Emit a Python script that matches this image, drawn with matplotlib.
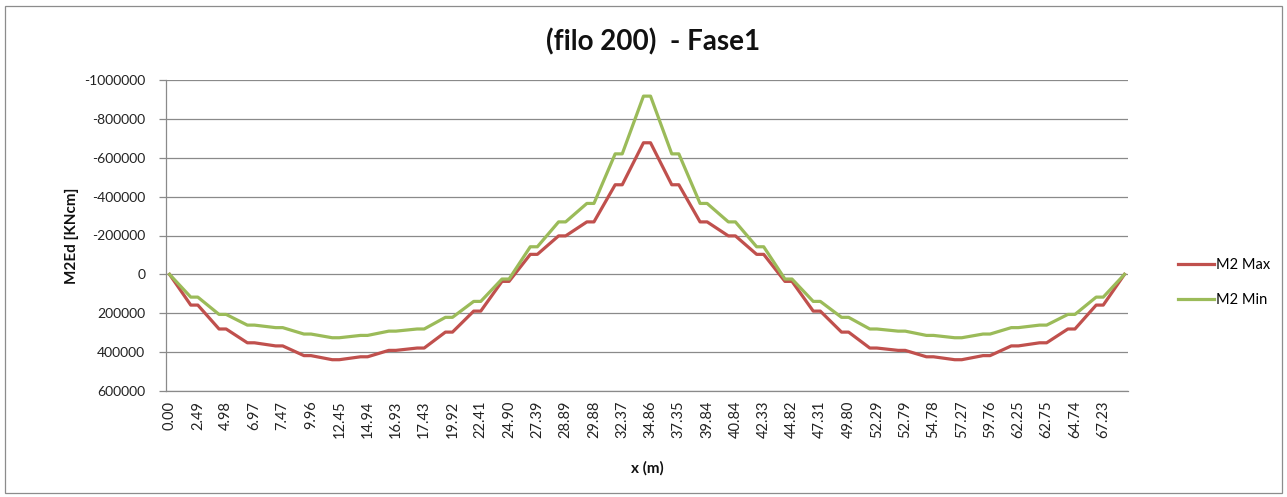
import matplotlib
matplotlib.use("Agg")
import matplotlib.pyplot as plt
from matplotlib.patches import Rectangle
from matplotlib.ticker import FuncFormatter, FixedLocator

plt.rcParams['font.family'] = ['Lato', 'DejaVu Sans']

# Section abscissae (m) at the element nodes, as printed on the category axis
x_labels = ["0.00", "2.49", "4.98", "6.97", "7.47", "9.96", "12.45", "14.94",
            "16.93", "17.43", "19.92", "22.41", "24.90", "27.39", "28.89",
            "29.88", "32.37", "34.86", "37.35", "39.84", "40.84", "42.33",
            "44.82", "47.31", "49.80", "52.29", "52.79", "54.78", "57.27",
            "59.76", "62.25", "62.75", "64.74", "67.23"]

# Bending moment M2Ed [KNcm] at the element nodes (35 nodes, 34 elements)
m2_max = [0, 158000, 281000, 352000, 368000, 418000, 439000, 424000, 391000,
          379000, 297000, 189000, 36000, -103000, -198000, -270000, -461000,
          -677000,
          -461000, -270000, -198000, -103000, 36000, 189000, 297000, 379000,
          391000, 424000, 439000, 418000, 368000, 352000, 281000, 158000, 0]
m2_min = [0, 117000, 206000, 261000, 274000, 307000, 326000, 314000, 292000,
          281000, 221000, 139000, 24000, -142000, -270000, -365000, -620000,
          -917000,
          -620000, -365000, -270000, -142000, 24000, 139000, 221000, 281000,
          292000, 314000, 326000, 307000, 274000, 261000, 206000, 117000, 0]

# Each element is output as 4 stations (start, 1/3, 2/3, end) on the category axis
STATIONS = 4
n_elem = len(m2_max) - 1
n_cat = n_elem * STATIONS


def element_polyline(node_vals):
    xs, ys = [], []
    for k in range(n_elem):
        xs += [k * STATIONS, k * STATIONS + STATIONS - 1]
        ys += [node_vals[k], node_vals[k + 1]]
    return xs, ys


W, H = 1287, 497
fig = plt.figure(figsize=(W / 100, H / 100), dpi=100)
fig.patch.set_facecolor("white")
fig.add_artist(Rectangle((5 / W, 4 / H), 1277 / W, 487 / H, transform=fig.transFigure,
                         fill=False, edgecolor="#8c8c8c", linewidth=0.9))

ax = fig.add_axes([166 / W, 1 - 391 / H, (1128 - 166) / W, (391 - 80) / H])

grid_c = "#8a8a8a"
red = "#C0504D"
green = "#9BBB59"

xs, ys = element_polyline(m2_max)
ax.plot(xs, ys, color=red, lw=2.3, label="M2 Max", solid_joinstyle="round", zorder=3)
xs, ys = element_polyline(m2_min)
ax.plot(xs, ys, color=green, lw=2.3, label="M2 Min", solid_joinstyle="round", zorder=3)

ax.set_xlim(-0.5, n_cat - 0.5)
ax.set_ylim(600000, -1000000)
ax.yaxis.set_major_locator(FixedLocator(range(-1000000, 600001, 200000)))
ax.yaxis.set_major_formatter(FuncFormatter(lambda v, p: f"{int(round(v))}"))
ax.grid(axis="y", color=grid_c, lw=0.9)
ax.set_axisbelow(True)

ax.set_xticks([k * STATIONS for k in range(len(x_labels))])
ax.set_xticklabels(x_labels, rotation=90, fontsize=10.5, color="#222222")
ax.tick_params(axis="x", length=0, pad=7)
ax.tick_params(axis="y", length=5, width=0.9, color=grid_c, labelsize=10,
               labelcolor="#222222", pad=10)

for s in ("top", "right"):
    ax.spines[s].set_visible(False)
ax.spines["left"].set_color(grid_c)
ax.spines["bottom"].set_color(grid_c)
ax.spines["left"].set_linewidth(0.9)
ax.spines["bottom"].set_linewidth(0.9)

fig.text(653 / W, 1 - 42 / H, "(filo 200)  - Fase1", ha="center", va="center",
         fontsize=20, fontweight="bold", color="#111111")
fig.text(647 / W, 1 - 468 / H, "x (m)", ha="center", va="center",
         fontsize=11, fontweight="bold", color="#111111")
fig.text(72 / W, 1 - 236 / H, "M2Ed [KNcm]", ha="center", va="center",
         rotation=90, fontsize=11, fontweight="bold", color="#111111")

leg = fig.legend(loc="upper left", bbox_to_anchor=(1172 / W, 1 - 252 / H),
                 frameon=False, fontsize=10.5, handlelength=2.5, handletextpad=0.15,
                 labelspacing=1.45, borderaxespad=0)

fig.savefig("out.png", dpi=100, facecolor="white")
